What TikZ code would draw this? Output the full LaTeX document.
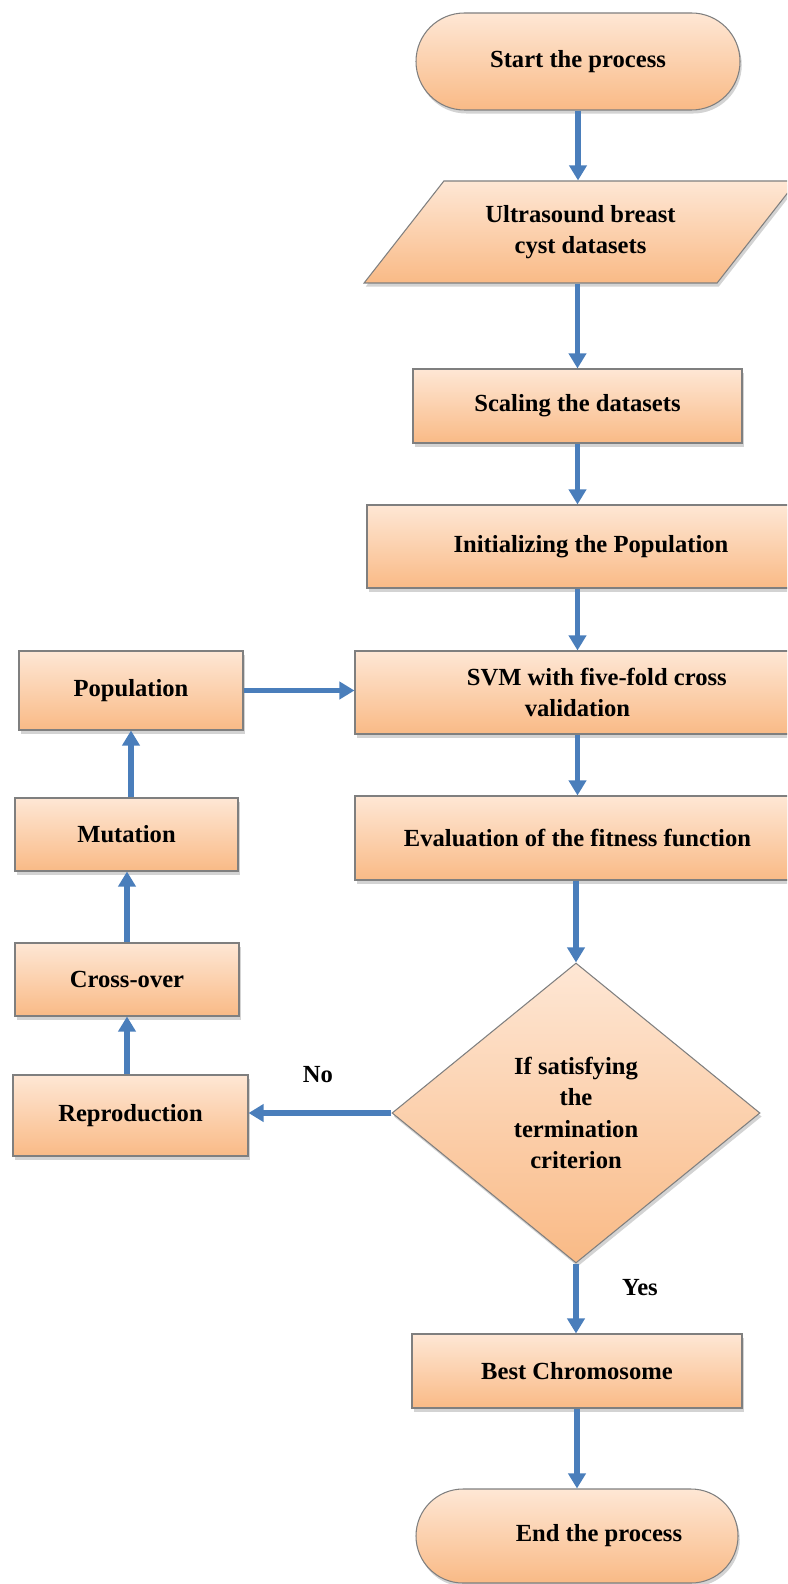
\documentclass[tikz,border=0pt]{standalone}
\usepackage{fontspec}
\setmainfont{Liberation Serif}
\usetikzlibrary{shapes.geometric,shapes.misc,arrows.meta,shadows}
\newcommand\px{0.02cm}
\definecolor{peachtop}{HTML}{FEE7D5}
\definecolor{peachbot}{HTML}{F9BA86}
\definecolor{flowblue}{HTML}{4A7EBB}
\definecolor{edgegrey}{HTML}{7F7F7F}

\begin{document}
\begin{tikzpicture}[x=\px, y=-\px,
    txt/.style={font=\fontsize{14}{17.8}\selectfont\bfseries},
    block/.style={rectangle, draw=edgegrey, line width=0.6pt, top color=peachtop, bottom color=peachbot,
        drop shadow={shadow xshift=1pt, shadow yshift=-2pt, opacity=0.35}, align=center, inner sep=0pt, txt},
    terminal/.style={block, rounded rectangle},
    iobox/.style={block, trapezium, trapezium left angle=44, trapezium right angle=136, trapezium stretches=true},
    decision/.style={block, diamond},
    flow/.style={draw=flowblue, line width=0.11cm, -{Triangle[length=0.3cm, width=0.34cm]}}]
    \clip (0, 0) rectangle (787, 1584);

    %main column
    \node at (578, 61.5) [terminal, minimum width=324*\px, minimum height=97*\px] (start) {Start the process};
    \node at (580.5, 232) [iobox, minimum width=433*\px, minimum height=102*\px] (data) {Ultrasound breast\\cyst datasets};
    \node at (577.5, 406) [block, minimum width=329*\px, minimum height=74*\px] (scale) {Scaling the datasets};
    \node at (591, 546.5) [block, minimum width=448*\px, minimum height=83*\px] (init) {Initializing the Population};
    \node at (577.5, 692.5) [block, minimum width=445*\px, minimum height=83*\px] (svm) {\hspace*{22pt}SVM with five-fold cross\\validation};
    \node at (577.5, 838) [block, minimum width=445*\px, minimum height=84*\px] (eval) {Evaluation of the fitness function};
    \node at (576, 1113) [decision, minimum width=368*\px, minimum height=300*\px] (dec) {If satisfying\\the\\termination\\criterion};
    \node at (577, 1371) [block, minimum width=330*\px, minimum height=74*\px] (best) {Best Chromosome};
    \node at (577, 1536) [terminal, minimum width=322*\px, minimum height=94*\px] (end) {\hspace*{25pt}End the process};

    %genetic loop on the left
    \node at (131, 690.5) [block, minimum width=224*\px, minimum height=79*\px] (pop) {Population};
    \node at (126.5, 834.5) [block, minimum width=223*\px, minimum height=73*\px] (mut) {Mutation};
    \node at (127, 979.5) [block, minimum width=224*\px, minimum height=73*\px] (cross) {Cross-over};
    \node at (130.5, 1115.5) [block, minimum width=235*\px, minimum height=81*\px] (repro) {Reproduction};

    \node at (318, 1075) [txt] (no) {No};
    \node at (640, 1288) [txt] (yes) {Yes};

    %arrows down the main column
    \draw [flow] (start.south) -- (start.south |- data.north);
    \draw [flow] (scale.north |- data.south) -- (scale.north);
    \draw [flow] (scale.south) -- (scale.south |- init.north);
    \draw [flow] (svm.north |- init.south) -- (svm.north);
    \draw [flow] (svm.south) -- (eval.north);
    \draw [flow] (dec.north |- eval.south) -- (dec.north);
    \draw [flow] (dec.south) -- (dec.south |- best.north);
    \draw [flow] (best.south) -- (best.south |- end.north);

    %No branch and loop back
    \draw [flow] (dec.west) -- (dec.west -| repro.east);
    \draw [flow] (cross.south |- repro.north) -- (cross.south);
    \draw [flow] (cross.north) -- (cross.north |- mut.south);
    \draw [flow] (pop.south |- mut.north) -- (pop.south);
    \draw [flow] (pop.east) -- (pop.east -| svm.west);
\end{tikzpicture}
\end{document}
